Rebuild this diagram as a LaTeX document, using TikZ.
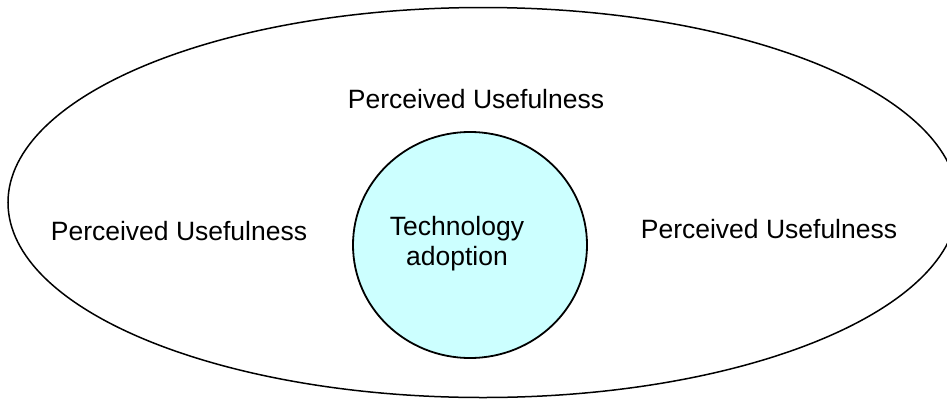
\documentclass[tikz,border=0pt]{standalone}
\usepackage{fontspec}
\setmainfont{Liberation Sans}
\usetikzlibrary{shapes.geometric}
\definecolor{adoptfill}{HTML}{CCFFFF}
\tikzset{
  outerring/.style={ellipse, draw=black, line width=1.5pt, inner sep=0pt,
    minimum width=950pt, minimum height=390pt},
  coreblob/.style={ellipse, draw=black, fill=adoptfill, line width=1.8pt, inner sep=0pt,
    minimum width=234pt, minimum height=226pt},
  factor/.style={font=\fontsize{26.5}{30}\selectfont, inner sep=0pt, align=center}
}
\begin{document}
\begin{tikzpicture}[x=1pt, y=-1pt]
  \useasboundingbox (0,0) rectangle (947,399);
  \clip (0,0) rectangle (947,399);
  % outer context ring (runs slightly past the right border)
  \node[outerring] (ring) at (483,202.5) {};
  % central construct
  \node[coreblob] (core) at (470,245) {};
  \node[factor] (coretext) at (457,244) {Technology\\adoption};
  % surrounding factors
  \node[factor] (top) at (476,99) {Perceived Usefulness};
  \node[factor] (left) at (179,231) {Perceived Usefulness};
  \node[factor] (right) at (769,229) {Perceived Usefulness};
\end{tikzpicture}
\end{document}
